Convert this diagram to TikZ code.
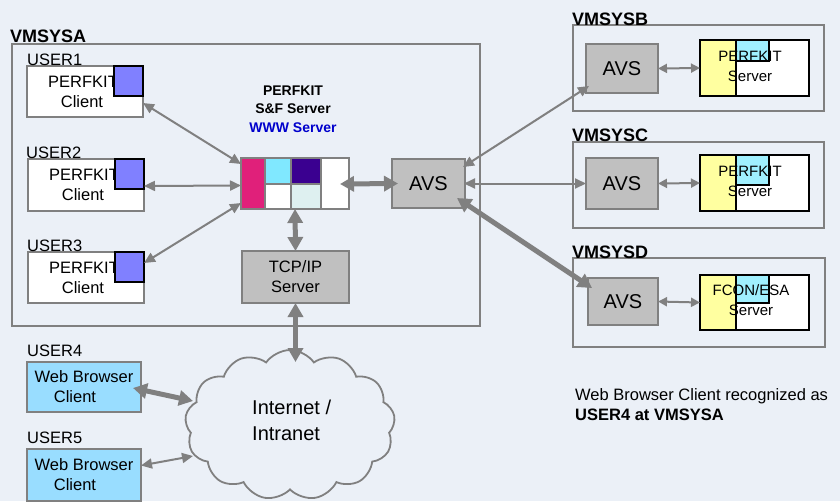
\documentclass[tikz,border=0pt]{standalone}
\usepackage{fontspec}
\setmainfont{Liberation Sans}
\usetikzlibrary{arrows.meta,shapes.symbols}
\definecolor{bg}{RGB}{235,240,247}
\definecolor{lgray}{RGB}{128,128,128}
\definecolor{avsgray}{RGB}{192,192,192}
\definecolor{purp}{RGB}{128,128,255}
\definecolor{magen}{RGB}{224,32,122}
\definecolor{cyanA}{RGB}{128,232,255}
\definecolor{indig}{RGB}{58,0,144}
\definecolor{lcyan}{RGB}{222,240,240}
\definecolor{yell}{RGB}{255,255,160}
\definecolor{cyanB}{RGB}{160,240,255}
\definecolor{webblue}{RGB}{153,221,255}
\definecolor{wwwblue}{RGB}{0,0,204}
\begin{document}
\begin{tikzpicture}[x=1pt,y=-1pt,
  fs/.style={font=\fontsize{16.5}{20}\selectfont},
  sysbox/.style={draw=lgray,line width=2pt,inner sep=0pt,outer sep=0pt},
  whitebox/.style={sysbox,fill=white},
  avsbox/.style={sysbox,fill=avsgray,font=\fontsize{20}{24}\selectfont},
  blk/.style={draw=black,line width=2.2pt,inner sep=0pt,outer sep=0pt},
  syslabel/.style={anchor=base west,inner sep=0pt,font=\bfseries\fontsize{18}{22}\selectfont},
  userlabel/.style={anchor=base west,inner sep=0pt,fs},
  thinarr/.style={draw=lgray,line width=2pt,{Triangle[length=11pt,width=10pt]}-{Triangle[length=11pt,width=10pt]}},
  thickarr/.style={draw=lgray,line width=5pt,{Triangle[length=14pt,width=15pt]}-{Triangle[length=14pt,width=15pt]}},
  smallarr/.style={draw=lgray,line width=2pt,{Triangle[length=9pt,width=9pt]}-{Triangle[length=9pt,width=9pt]}}
]
\useasboundingbox[fill=bg] (0,0) rectangle (840,501);

% ---------------- VMSYSA ----------------
\node[sysbox,minimum width=468pt,minimum height=282pt] (sysA) at (246,185) {};
\node[syslabel] (labA) at (10,42) {VMSYSA};

% users 1-3
\node[whitebox,minimum width=116pt,minimum height=51pt,fs,align=center] (u1) at (85,91.5) {\hspace*{-4pt}PERFKIT\\\hspace*{-6pt}Client};
\node[blk,fill=purp,minimum width=29pt,minimum height=30pt] (p1) at (128.5,81) {};
\node[userlabel] (l1) at (27,65) {USER1};

\node[whitebox,minimum width=116pt,minimum height=52pt,fs,align=center] (u2) at (86,185) {\hspace*{-4pt}PERFKIT\\\hspace*{-6pt}Client};
\node[blk,fill=purp,minimum width=29pt,minimum height=30pt] (p2) at (129.5,174) {};
\node[userlabel] (l2) at (26,158) {USER2};

\node[whitebox,minimum width=116pt,minimum height=51pt,fs,align=center] (u3) at (86,277.5) {\hspace*{-4pt}PERFKIT\\\hspace*{-6pt}Client};
\node[blk,fill=purp,minimum width=29pt,minimum height=30pt] (p3) at (129.5,267) {};
\node[userlabel] (l3) at (27,251) {USER3};

% server block
\node[align=center,inner sep=0pt,font=\bfseries\fontsize{14}{18.5}\selectfont] (srvlab) at (293,109)
  {PERFKIT\\S\&F Server\\\textcolor{wwwblue}{WWW Server}};
\node[whitebox,minimum width=108pt,minimum height=51pt] (srv) at (295,183.5) {};
\fill[magen] (242,158) rectangle (265,209);
\fill[cyanA] (265,158) rectangle (291,183.5);
\fill[indig] (291,158) rectangle (321,183.5);
\fill[lcyan] (291,183.5) rectangle (321,209);
\draw[lgray,line width=2pt] (265,158) -- (265,209) (291,158) -- (291,209) (321,158) -- (321,209) (265,183.5) -- (321,183.5);
\draw[lgray,line width=2pt] (srv.north west) rectangle (srv.south east);

\node[avsbox,minimum width=73pt,minimum height=49pt] (avsA) at (428.5,183.5) {AVS};
\node[sysbox,fill=avsgray,minimum width=107pt,minimum height=52pt,fs,align=center] (tcp) at (295.5,277) {TCP/IP\\Server};

% ---------------- remote systems ----------------
\node[sysbox,minimum width=251pt,minimum height=86pt] (sysB) at (698.5,68) {};
\node[syslabel] (labB) at (572,25) {VMSYSB};
\node[avsbox,minimum width=72pt,minimum height=49pt] (avsB) at (622,68.5) {AVS};

\node[sysbox,minimum width=251pt,minimum height=86pt] (sysC) at (698.5,185) {};
\node[syslabel] (labC) at (572,141.5) {VMSYSC};
\node[avsbox,minimum width=72pt,minimum height=51pt] (avsC) at (622,183.5) {AVS};

\node[sysbox,minimum width=252pt,minimum height=89pt] (sysD) at (699,302.5) {};
\node[syslabel] (labD) at (572,258) {VMSYSD};
\node[avsbox,minimum width=70pt,minimum height=47pt] (avsD) at (623,301.5) {AVS};

% server B
\node[blk,fill=white,minimum width=109pt,minimum height=56pt] (svB) at (754.5,68) {};
\fill[yell] (svB.north west) rectangle (736,96);
\node[blk,fill=cyanB,minimum width=33pt,minimum height=21pt] (cB) at (752.5,50.5) {};
\draw[black,line width=2.2pt] (736,40) -- (736,96);
\draw[black,line width=2.2pt] (svB.north west) rectangle (svB.south east);
\node[align=center,inner sep=0pt,font=\fontsize{15}{20}\selectfont] (tB) at (750,66) {PERFKIT\\Server};

% server C
\node[blk,fill=white,minimum width=109pt,minimum height=56pt] (svC) at (754.5,183) {};
\fill[yell] (svC.north west) rectangle (736,211);
\node[blk,fill=cyanB,minimum width=33pt,minimum height=30pt] (cC) at (752.5,170) {};
\draw[black,line width=2.2pt] (736,155) -- (736,211);
\draw[black,line width=2.2pt] (svC.north west) rectangle (svC.south east);
\node[align=center,inner sep=0pt,font=\fontsize{15}{20}\selectfont] (tC) at (750,181) {PERFKIT\\Server};

% server D
\node[blk,fill=white,minimum width=109pt,minimum height=55pt] (svD) at (754.5,302.5) {};
\fill[yell] (svD.north west) rectangle (736,330);
\node[blk,fill=cyanB,minimum width=33pt,minimum height=28pt] (cD) at (752.5,289) {};
\draw[black,line width=2.2pt] (736,275) -- (736,330);
\draw[black,line width=2.2pt] (svD.north west) rectangle (svD.south east);
\node[align=center,inner sep=0pt,font=\fontsize{15}{20}\selectfont] (tD) at (751,300) {FCON/ESA\\Server};

% ---------------- web users & cloud ----------------
\node[cloud,cloud puffs=13,cloud puff arc=110,draw=lgray,line width=1.8pt,fill=bg,
  minimum width=210pt,minimum height=150pt,inner sep=0pt] (net) at (290,425) {};
\node[anchor=west,align=left,inner sep=0pt,font=\fontsize{20}{26}\selectfont] (nettext) at (252,420) {Internet /\\Intranet};
\coordinate (netTop) at (295.5,362);
\coordinate (netL1) at (193,401);
\coordinate (netL2) at (193,456);

\node[sysbox,fill=webblue,minimum width=114pt,minimum height=50pt,fs,align=center] (u4) at (84,387) {Web Browser\\Client\hspace*{18pt}};
\node[userlabel] (l4) at (27,356) {USER4};
\node[sysbox,fill=webblue,minimum width=114pt,minimum height=52pt,fs,align=center] (u5) at (84,475) {Web Browser\\Client\hspace*{18pt}};
\node[userlabel] (l5) at (27,443) {USER5};

\node[anchor=north west,align=left,inner sep=0pt,fs] (note) at (575,388) {Web Browser Client recognized as\\\textbf{USER4 at VMSYSA}};

% ---------------- connectors ----------------
\draw[thinarr] ([yshift=-11.5pt]u1.east) -- ([yshift=19.5pt]srv.west);
\draw[thinarr] ([yshift=-1pt]u2.east) -- ([yshift=-2pt]srv.west);
\draw[thinarr] ([yshift=14.5pt]u3.east) -- ([yshift=-19.5pt]srv.west);
\draw[thickarr] ([xshift=-9pt,yshift=-0.5pt]srv.east) -- ([xshift=6pt]avsA.west);
\draw[thickarr] (srv.south) -- (tcp.north);
\draw[thickarr] (tcp.south) -- (netTop);
\draw[thickarr] ([xshift=-8pt,yshift=-1pt]u4.east) -- (netL1);
\draw[thinarr] ([yshift=9.5pt]u5.east) -- (netL2);

\draw[thinarr] ([xshift=-2pt,yshift=16.5pt]avsA.east) -- ([xshift=3pt,yshift=-17.5pt]avsB.west);
\draw[thinarr] ([xshift=-1pt]avsA.east) -- (avsC.west);
\draw[thickarr] ([xshift=-8pt,yshift=-14.5pt]avsA.east) -- ([xshift=4pt,yshift=13.5pt]avsD.west);

\draw[smallarr] (avsB.east) -- (svB.west);
\draw[smallarr] (avsC.east) -- (svC.west);
\draw[smallarr] (avsD.east) -- (svD.west);
\end{tikzpicture}
\end{document}
